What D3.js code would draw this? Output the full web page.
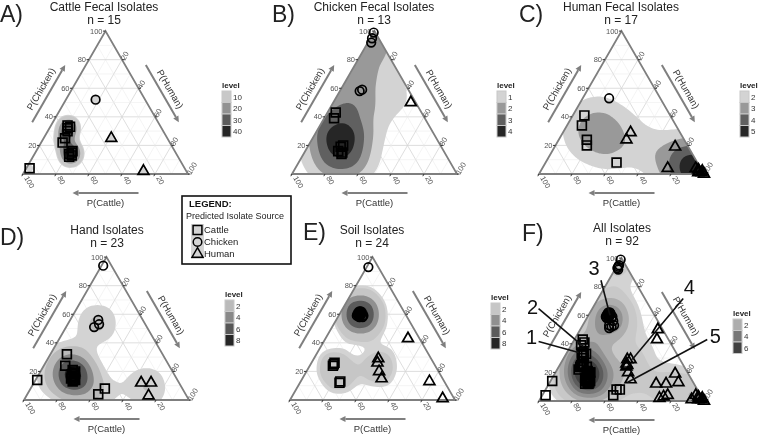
<!DOCTYPE html>
<html>
<head>
<meta charset="utf-8">
<script src="https://cdn.jsdelivr.net/npm/d3@7"></script>
<style>
body { margin: 0; background: #fff; }
svg { will-change: transform; }
text { font-family: "Liberation Sans", Arial, sans-serif; }
</style>
</head>
<body>
<script>
// isolates: [predicted source, P(Cattle), P(Chicken), P(Human)] in percent
var cattleFecal = [
  ["Cattle", 94, 4, 2],
  ["Cattle", 56, 34, 10], ["Cattle", 55, 33, 12], ["Cattle", 57, 32, 11], ["Cattle", 58, 30, 12],
  ["Cattle", 62, 25, 13], ["Cattle", 65, 22, 13],
  ["Cattle", 62, 16, 22], ["Cattle", 63, 15, 22], ["Cattle", 65, 14, 21], ["Cattle", 66, 12, 22], ["Cattle", 64, 13, 23],
  ["Chicken", 30, 52, 18],
  ["Human", 34, 25, 41], ["Human", 26, 2, 72]
];
var chickenFecal = [
  ["Chicken", 1, 99, 0], ["Chicken", 4, 95, 1], ["Chicken", 6, 92, 2],
  ["Chicken", 28, 59, 13], ["Chicken", 30, 58, 12],
  ["Human", 3, 50, 47],
  ["Cattle", 52, 43, 5], ["Cattle", 55, 39, 6],
  ["Cattle", 59, 20, 21], ["Cattle", 61, 19, 20], ["Cattle", 64, 16, 20], ["Cattle", 62, 15, 23], ["Cattle", 63, 14, 23]
];
var humanFecal = [
  ["Chicken", 31, 53, 16],
  ["Cattle", 52, 41, 7], ["Cattle", 57, 34, 9], ["Cattle", 59, 24, 17], ["Cattle", 61, 20, 19], ["Cattle", 49, 8, 43],
  ["Human", 30, 29, 41], ["Human", 35, 24, 41], ["Human", 8, 19, 73], ["Human", 20, 4, 76],
  ["Human", 3, 4, 93], ["Human", 2, 2, 96], ["Human", 0, 2, 98], ["Human", 1, 1, 98],
  ["Human", 3, 1, 96], ["Human", 2, 3, 95], ["Human", 0, 0, 100]
];
var handIsolates = [
  ["Chicken", 5, 94, 1],
  ["Chicken", 27, 56, 17], ["Chicken", 32, 51, 17], ["Chicken", 28, 53, 19],
  ["Cattle", 85, 14, 1], ["Cattle", 58, 32, 10], ["Cattle", 63, 24, 13],
  ["Cattle", 59, 20, 21], ["Cattle", 60, 19, 21], ["Cattle", 62, 18, 20], ["Cattle", 63, 16, 21],
  ["Cattle", 62, 15, 23], ["Cattle", 64, 15, 21], ["Cattle", 61, 17, 22], ["Cattle", 60, 21, 19],
  ["Cattle", 63, 14, 23], ["Cattle", 62, 14, 24], ["Cattle", 64, 13, 23],
  ["Cattle", 53, 4, 43], ["Cattle", 47, 8, 45],
  ["Human", 23, 12, 65], ["Human", 17, 12, 71], ["Human", 23, 3, 74]
];
var soilIsolates = [
  ["Chicken", 6, 93, 1],
  ["Chicken", 27, 60, 13], ["Chicken", 28, 59, 13], ["Chicken", 26, 61, 13], ["Chicken", 29, 58, 13],
  ["Chicken", 27, 58, 15], ["Chicken", 28, 61, 11], ["Chicken", 26, 59, 15], ["Chicken", 30, 59, 11],
  ["Chicken", 27, 62, 11], ["Chicken", 29, 60, 11], ["Chicken", 26, 62, 12],
  ["Cattle", 61, 25, 14], ["Cattle", 60, 26, 14], ["Cattle", 62, 24, 14], ["Cattle", 63, 13, 24], ["Cattle", 64, 12, 24],
  ["Human", 7, 43, 50], ["Human", 32, 29, 39], ["Human", 34, 26, 40], ["Human", 36, 20, 44],
  ["Human", 37, 15, 48], ["Human", 9, 13, 78], ["Human", 7, 1, 92]
];
var allIsolates = [].concat(cattleFecal, chickenFecal, humanFecal, handIsolates, soilIsolates);

var panelTitles = ["Cattle Fecal Isolates", "Chicken Fecal Isolates", "Human Fecal Isolates",
                   "Hand Isolates", "Soil Isolates", "All Isolates"];
var panelLetters = ["A)", "B)", "C)", "D)", "E)", "F)"];
var panelData = [cattleFecal, chickenFecal, humanFecal, handIsolates, soilIsolates, allIsolates];

// density levels (legend breaks) and the filled bands drawn
var legendLevels = [[10, 20, 30, 40], [1, 2, 3, 4], [2, 3, 4, 5], [2, 4, 6, 8], [2, 4, 6, 8], [2, 4, 6]];
var bandLevels = [[8, 10, 20, 30, 40], [1, 2, 3, 4], [2, 3, 4, 5], [1, 2, 4, 6, 8], [1.5, 2, 4, 6, 8], [0.6, 1, 2, 3, 4, 5, 6, 7]];
var peakLevel = [45, 4.6, 5.6, 9, 9, 7.6];

var axisTicks = [20, 40, 60, 80, 100];
var sources = ["Cattle", "Chicken", "Human"];

// numbered call-outs in panel F: target [cattle, chicken, human]
var callouts = [
  { label: "1", at: [59, 34, 7] },
  { label: "2", at: [54, 38, 8] },
  { label: "3", at: [27, 60, 13] },
  { label: "4", at: [29, 29, 42] },
  { label: "5", at: [40, 13, 47] }
];

// ---------- layout ----------
var width = 760, height = 436;
var W = 165, H = W * Math.sqrt(3) / 2;
var layout = [
  { x0: 23, base: 174, letter: [0, 22], title: [104, 11], legend: [222, 88], bw: 6.5 },
  { x0: 292, base: 174, letter: [272, 22], title: [374, 11], legend: [497, 88], bw: 22 },
  { x0: 539, base: 174, letter: [519, 22], title: [621, 11], legend: [740, 88], bw: 24 },
  { x0: 24, base: 400, letter: [0, 245], title: [107, 234], legend: [225, 297], bw: 13 },
  { x0: 290, base: 400, letter: [303, 240], title: [372, 234], legend: [491, 300], bw: 13 },
  { x0: 539, base: 401, letter: [522, 241], title: [622, 232], legend: [733, 316], bw: 14 }
];
var calloutOffsets = [[-40, -11, -7, -4], [-45, -38, -6, -2], [-9, -35, -7, -12], [51, -61, 6, -12], [80, -43, 8, -3]];

var axisGrey = "#7f7f7f";
var textGrey = "#555555";

var svg = d3.select("body").append("svg")
  .attr("width", width).attr("height", height)
  .style("display", "block");
var defs = svg.append("defs");

var symbolGen = {
  Cattle: d3.symbol().type(d3.symbolSquare).size(78),
  Chicken: d3.symbol().type(d3.symbolCircle).size(58),
  Human: d3.symbol().type(d3.symbolTriangle).size(52)
};

function arrow(g, x1, y1, x2, y2) {
  var a = Math.atan2(y2 - y1, x2 - x1);
  var hl = 6, hw = 3;
  var bx = x2 - hl * Math.cos(a), by = y2 - hl * Math.sin(a);
  g.append("line").attr("x1", x1).attr("y1", y1).attr("x2", bx).attr("y2", by)
    .attr("stroke", axisGrey).attr("stroke-width", 2);
  g.append("path")
    .attr("d", "M" + x2 + "," + y2 +
      "L" + (bx + hw * Math.sin(a)) + "," + (by - hw * Math.cos(a)) +
      "L" + (bx - hw * Math.sin(a)) + "," + (by + hw * Math.cos(a)) + "Z")
    .attr("fill", axisGrey);
}

layout.forEach(function (L, pi) {
  var data = panelData[pi];
  var g = svg.append("g");
  var x = d3.scaleLinear().domain([0, 100]).range([L.x0, L.x0 + W]);
  var y = d3.scaleLinear().domain([0, 100]).range([L.base, L.base - H]);
  function proj(c, k, h) { var s = c + k + h; return [x(100 * (h + k / 2) / s), y(100 * k / s)]; }
  var BL = proj(100, 0, 0), TP = proj(0, 100, 0), BR = proj(0, 0, 100);
  var triPath = "M" + BL + "L" + TP + "L" + BR + "Z";

  // title
  g.append("text").attr("x", L.letter[0]).attr("y", L.letter[1])
    .attr("font-size", 23).attr("fill", "#222").text(panelLetters[pi]);
  g.append("text").attr("x", L.title[0]).attr("y", L.title[1]).attr("text-anchor", "middle")
    .attr("font-size", 12).attr("fill", "#222").text(panelTitles[pi]);
  g.append("text").attr("x", L.title[0]).attr("y", L.title[1] + 12.5).attr("text-anchor", "middle")
    .attr("font-size", 12).attr("fill", "#222").text("n = " + data.length);

  // grid
  var grid = g.append("g").attr("fill", "none");
  d3.range(10, 100, 10).forEach(function (v) {
    var major = v % 20 === 0;
    var segs = [
      [proj(100 - v, v, 0), proj(0, v, 100 - v)],
      [proj(v, 100 - v, 0), proj(v, 0, 100 - v)],
      [proj(100 - v, 0, v), proj(0, 100 - v, v)]
    ];
    segs.forEach(function (s) {
      grid.append("line").attr("x1", s[0][0]).attr("y1", s[0][1]).attr("x2", s[1][0]).attr("y2", s[1][1])
        .attr("stroke", major ? "#d6d6d6" : "#ececec").attr("stroke-width", major ? 0.8 : 0.6);
    });
  });

  // density
  var clipId = "clip" + pi;
  defs.append("clipPath").attr("id", clipId).append("path").attr("d", triPath);
  var pad = 40;
  var ox = L.x0 - pad, oy = L.base - H - pad;
  var pts = data.map(function (d) { return proj(d[1], d[2], d[3]); });
  var dens = d3.contourDensity()
    .x(function (p) { return p[0] - ox; })
    .y(function (p) { return p[1] - oy; })
    .size([W + 2 * pad, H + 2 * pad])
    .cellSize(2)
    .bandwidth(L.bw);
  var bands = bandLevels[pi];
  var shade = d3.scaleLinear().domain([bands[0], d3.max(bands)]).range(["#d3d3d3", "#262626"]);
  var dg = g.append("g").attr("clip-path", "url(#" + clipId + ")")
    .append("g").attr("transform", "translate(" + ox + "," + oy + ")");
  var contourAt;
  if (dens.contours) {
    var cf = dens.contours(pts);
    var scaleK = peakLevel[pi] / cf.max;
    contourAt = function (lv) { return cf(lv / scaleK); };
  } else {
    var many = dens.thresholds(400)(pts);
    var mx = d3.max(many, function (c) { return c.value; });
    contourAt = function (lv) {
      var t = lv / peakLevel[pi] * mx;
      return many.reduce(function (b, c) { return Math.abs(c.value - t) < Math.abs(b.value - t) ? c : b; });
    };
  }
  bands.forEach(function (lv) {
    dg.append("path").attr("d", d3.geoPath()(contourAt(lv))).attr("fill", shade(lv));
  });

  // border
  g.append("path").attr("d", triPath).attr("fill", "none")
    .attr("stroke", axisGrey).attr("stroke-width", 1.8).attr("stroke-linejoin", "miter");

  // ticks + labels
  var tg = g.append("g").attr("font-size", 7.5).attr("fill", textGrey);
  axisTicks.forEach(function (v) {
    var pl = proj(100 - v, v, 0);
    tg.append("line").attr("x1", pl[0]).attr("y1", pl[1]).attr("x2", pl[0] - 2.5).attr("y2", pl[1]).attr("stroke", "#333");
    tg.append("text").attr("x", pl[0] - 3).attr("y", pl[1]).attr("dy", "0.35em").attr("text-anchor", "end").text(v);
    var pb = proj(v, 0, 100 - v);
    tg.append("line").attr("x1", pb[0]).attr("y1", pb[1]).attr("x2", pb[0] - 1.2).attr("y2", pb[1] + 2.2).attr("stroke", "#333");
    tg.append("text").attr("transform", "translate(" + (pb[0] + 1) + "," + (pb[1] + 4) + ") rotate(60)")
      .attr("text-anchor", "start").text(v);
    var pr = proj(0, 100 - v, v);
    tg.append("line").attr("x1", pr[0]).attr("y1", pr[1]).attr("x2", pr[0] + 2.5).attr("y2", pr[1]).attr("stroke", "#333");
    tg.append("text").attr("transform", "translate(" + (pr[0] + 3) + "," + (pr[1] + 1) + ") rotate(-60)")
      .attr("text-anchor", "start").text(v);
  });

  // axis arrows and titles
  var s3 = Math.sqrt(3) / 2;
  var uL = [0.5, -s3], nL = [-s3, -0.5];
  var uR = [0.5, s3], nR = [s3, -0.5];
  var off = 18;
  arrow(g, BL[0] + uL[0] * 0.3 * W + nL[0] * off, BL[1] + uL[1] * 0.3 * W + nL[1] * off,
           BL[0] + uL[0] * 0.7 * W + nL[0] * off, BL[1] + uL[1] * 0.7 * W + nL[1] * off);
  arrow(g, TP[0] + uR[0] * 0.3 * W + nR[0] * off, TP[1] + uR[1] * 0.3 * W + nR[1] * off,
           TP[0] + uR[0] * 0.7 * W + nR[0] * off, TP[1] + uR[1] * 0.7 * W + nR[1] * off);
  arrow(g, BL[0] + 0.7 * W, BL[1] + 19, BL[0] + 0.3 * W, BL[1] + 19);
  var at = g.append("g").attr("font-size", 9.5).attr("fill", "#333").attr("text-anchor", "middle");
  var cl = [BL[0] + uL[0] * 0.5 * W + nL[0] * 27, BL[1] + uL[1] * 0.5 * W + nL[1] * 27];
  at.append("text").attr("transform", "translate(" + cl + ") rotate(-60)").attr("dy", "0.35em").text("P(Chicken)");
  var cr = [TP[0] + uR[0] * 0.5 * W + nR[0] * 27, TP[1] + uR[1] * 0.5 * W + nR[1] * 27];
  at.append("text").attr("transform", "translate(" + cr + ") rotate(60)").attr("dy", "0.35em").text("P(Human)");
  at.append("text").attr("x", BL[0] + W / 2).attr("y", BL[1] + 32).text("P(Cattle)");

  // points
  g.append("g").selectAll("path").data(data).join("path")
    .attr("transform", function (d) { var p = proj(d[1], d[2], d[3]); return "translate(" + p + ")"; })
    .attr("d", function (d) { return symbolGen[d[0]](); })
    .attr("fill", "none").attr("stroke", "#000").attr("stroke-width", 1.7);

  // level legend
  var lg = g.append("g").attr("transform", "translate(" + L.legend + ")");
  lg.append("text").attr("x", 0).attr("y", 0).attr("font-size", 8).attr("font-weight", "bold")
    .attr("fill", "#222").text("level");
  var lv = legendLevels[pi];
  lg.selectAll("rect").data(lv).join("rect")
    .attr("x", 0).attr("y", function (d, i) { return 3 + i * 11.5; })
    .attr("width", 9).attr("height", 11.5)
    .attr("fill", function (d) { return shade(d); })
    .attr("stroke", "#c8c8c8").attr("stroke-width", 1);
  lg.selectAll("text.lab").data(lv).join("text").attr("class", "lab")
    .attr("x", 11).attr("y", function (d, i) { return 3 + i * 11.5 + 5.75; })
    .attr("dy", "0.35em").attr("font-size", 8).attr("fill", "#333").text(function (d) { return d; });

  // call-outs on the combined panel
  if (pi === 5) {
    callouts.forEach(function (c, i) {
      var o = calloutOffsets[i];
      var p = proj(c.at[0], c.at[1], c.at[2]);
      var s = [p[0] + o[0], p[1] + o[1]];
      g.append("line").attr("x1", s[0]).attr("y1", s[1]).attr("x2", p[0]).attr("y2", p[1])
        .attr("stroke", "#111").attr("stroke-width", 1.6);
      g.append("text").attr("x", s[0] + o[2]).attr("y", s[1] + o[3]).attr("dy", "0.35em")
        .attr("text-anchor", "middle").attr("font-size", 20).attr("fill", "#111").text(c.label);
    });
  }
});

// source legend box
var box = svg.append("g").attr("transform", "translate(182,196)");
box.append("rect").attr("width", 109).attr("height", 68).attr("fill", "#fff")
  .attr("stroke", "#111").attr("stroke-width", 1.6);
box.append("text").attr("x", 7).attr("y", 11).attr("font-size", 9.5).attr("font-weight", "bold").attr("fill", "#111").text("LEGEND:");
box.append("text").attr("x", 4).attr("y", 23).attr("font-size", 9).attr("fill", "#222").text("Predicted Isolate Source");
box.append("rect").attr("x", 9).attr("y", 28).attr("width", 13).attr("height", 35).attr("fill", "#d4d4d4");
sources.forEach(function (s, i) {
  box.append("path").attr("transform", "translate(15.5," + (34 + i * 12) + ")")
    .attr("d", symbolGen[s]()).attr("fill", "none").attr("stroke", "#000").attr("stroke-width", 1.5);
  box.append("text").attr("x", 22).attr("y", 34 + i * 12).attr("dy", "0.35em")
    .attr("font-size", 9.5).attr("fill", "#222").text(s);
});
</script>
</body>
</html>
